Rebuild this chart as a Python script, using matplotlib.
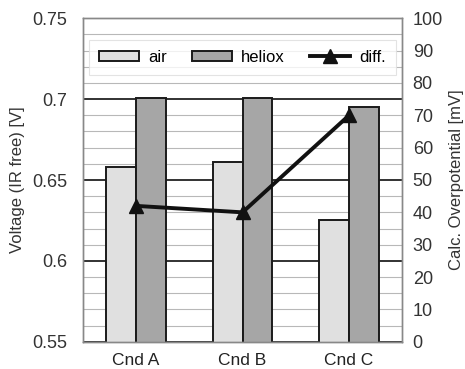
import matplotlib
matplotlib.use("Agg")
import matplotlib.pyplot as plt
import numpy as np
from matplotlib.ticker import MultipleLocator

plt.rcParams['font.family'] = ['Liberation Sans', 'DejaVu Sans']

categories = ["Cnd A", "Cnd B", "Cnd C"]
air = [0.658, 0.661, 0.625]
heliox = [0.701, 0.701, 0.695]
diff = [42, 40, 70]

fig = plt.figure(figsize=(4.65, 3.69), dpi=100)
ax = fig.add_axes([82.7/465, 1 - 341.7/369, (402.3-82.7)/465, (341.7-18.3)/369])
x = np.arange(len(categories))
w = 0.28

ax.set_xlim(-0.5, 2.5)
ax.set_ylim(0.55, 0.75)
ax.yaxis.set_major_locator(MultipleLocator(0.05))
ax.yaxis.set_minor_locator(MultipleLocator(0.01))
ax.grid(which='minor', axis='y', color='#b8b8b8', linewidth=0.8, zorder=0)
ax.grid(which='major', axis='y', color='#222222', linewidth=1.3, zorder=0.5)
ax.set_axisbelow(True)

ax.bar(x - w/2, air, width=w, color='#e0e0e0', edgecolor='#1a1a1a', linewidth=1.4, label='air', zorder=2)
ax.bar(x + w/2, heliox, width=w, color='#a6a6a6', edgecolor='#1a1a1a', linewidth=1.4, label='heliox', zorder=2)

ax.set_xticks(x)
ax.set_xticklabels(categories, fontsize=12.5, color='#222222')
ax.set_yticks([0.55, 0.6, 0.65, 0.7, 0.75])
ax.set_yticklabels(['0.55', '0.6', '0.65', '0.7', '0.75'], fontsize=13, color='#333333')
ax.tick_params(axis='y', which='both', length=0, pad=11)
ax.tick_params(axis='x', which='both', length=0, pad=8)
ax.set_ylabel('Voltage (IR free) [V]', fontsize=12, color='#333333', labelpad=5)
for s in ax.spines.values():
    s.set_color('#888888')
    s.set_linewidth(1.0)

ax2 = ax.twinx()
ax2.set_ylim(0, 100)
ax2.yaxis.set_major_locator(MultipleLocator(10))
ax2.plot(x, diff, color='#111111', linewidth=2.8, marker='^', markersize=10, label='diff.', zorder=5)
ax2.tick_params(axis='y', length=0, pad=7.5, labelsize=13, labelcolor='#333333')
ax2.set_ylabel('Calc. Overpotential [mV]', fontsize=12, color='#333333', labelpad=4)
for s in ax2.spines.values():
    s.set_color('#888888')
    s.set_linewidth(1.0)

h1, l1 = ax.get_legend_handles_labels()
h2, l2 = ax2.get_legend_handles_labels()
leg = ax2.legend(h1 + h2, l1 + l2, ncol=3, loc='center', bbox_to_anchor=(0.500, 0.879),
                 fontsize=12, frameon=True, fancybox=False, edgecolor='#dddddd',
                 handlelength=2.4, handleheight=0.6, columnspacing=1.5, handletextpad=0.55,
                 borderpad=0.6, borderaxespad=0)
leg.get_frame().set_linewidth(0.8)

fig.savefig('out.png', dpi=100)
